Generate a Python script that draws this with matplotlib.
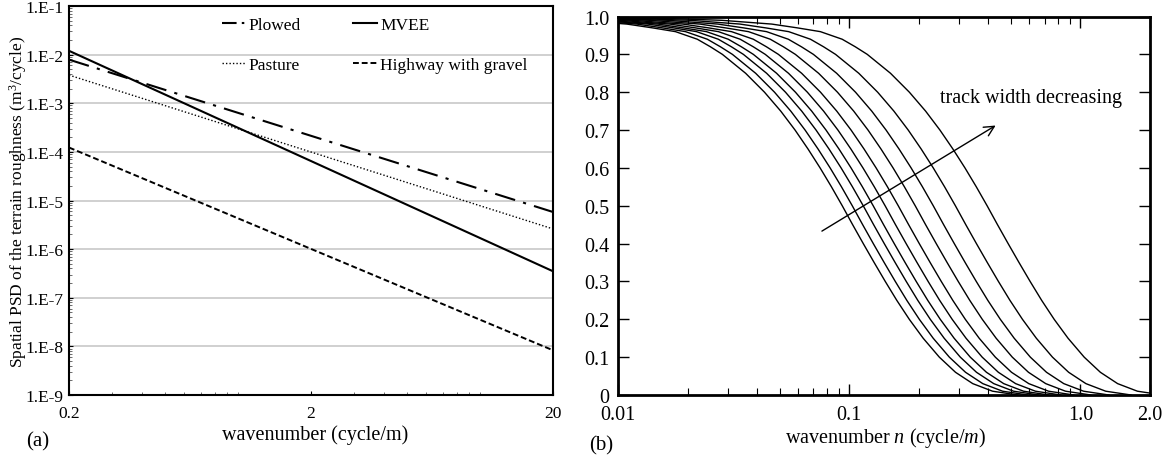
import numpy as np
import matplotlib
matplotlib.use("Agg")
import matplotlib.pyplot as plt
from matplotlib.lines import Line2D
from matplotlib.ticker import FixedLocator, LogLocator, NullFormatter

plt.rcParams['font.family'] = ['Liberation Serif', 'DejaVu Serif']
plt.rcParams['mathtext.fontset'] = 'custom'
plt.rcParams['mathtext.rm'] = 'Liberation Serif'
plt.rcParams['mathtext.it'] = 'Liberation Serif:italic'

# (a) terrain roughness PSD, end points of each straight line in log-log
wn_ends = [0.2, 20]
psd_plowed = [7.9e-3, 5.8e-6]
psd_mvee = [1.2e-2, 3.5e-7]
psd_pasture = [3.8e-3, 2.6e-6]
psd_highway = [1.23e-4, 8.3e-9]

psd_ticks = [1e-9, 1e-8, 1e-7, 1e-6, 1e-5, 1e-4, 1e-3, 1e-2, 1e-1]
psd_labels = ['1.E-9', '1.E-8', '1.E-7', '1.E-6', '1.E-5', '1.E-4', '1.E-3', '1.E-2', '1.E-1']

# (b) filter curves: common shape (level vs n / n_half) and half-level wavenumber per track width
shape_level = [1.0, 0.995, 0.99, 0.98, 0.97, 0.96, 0.94, 0.92, 0.90, 0.85, 0.80, 0.75, 0.70,
               0.65, 0.60, 0.55, 0.50, 0.45, 0.40, 0.35, 0.30, 0.25, 0.20, 0.15, 0.10, 0.06,
               0.03, 0.01, 0.0]
shape_ratio = [0.01, 0.04, 0.071, 0.117, 0.151, 0.19, 0.236, 0.269, 0.303, 0.382, 0.461,
               0.542, 0.625, 0.711, 0.802, 0.898, 1.0, 1.109, 1.233, 1.374, 1.535, 1.722,
               1.95, 2.239, 2.63, 3.09, 3.67, 4.47, 5.75]
n_half = [0.0933, 0.1031, 0.115, 0.127, 0.143, 0.163, 0.193, 0.231, 0.288, 0.395]

fig = plt.figure(figsize=(11.69, 4.56), dpi=100)

# ---------------- (a)
ax1 = fig.add_axes([0.0590, 0.1316, 0.4141, 0.8530])
ax1.plot(wn_ends, psd_plowed, color='black', lw=1.5, ls=(0, (10, 4, 1.5, 4)))
ax1.plot(wn_ends, psd_pasture, color='black', lw=1.0, ls=(0, (1, 1.5)))
ax1.plot(wn_ends, psd_mvee, color='black', lw=1.5, ls='-')
ax1.plot(wn_ends, psd_highway, color='black', lw=1.4, ls=(0, (3, 1.5)))
ax1.set_xscale('log')
ax1.set_yscale('log')
ax1.set_xlim(0.2, 20)
ax1.set_ylim(1e-9, 1e-1)
ax1.yaxis.set_major_locator(FixedLocator(psd_ticks))
ax1.set_yticklabels(psd_labels)
ax1.yaxis.set_minor_locator(LogLocator(base=10, subs=np.arange(2, 10), numticks=20))
ax1.yaxis.set_minor_formatter(NullFormatter())
ax1.xaxis.set_major_locator(FixedLocator([0.2, 2, 20]))
ax1.set_xticklabels(['0.2', '2', '20'])
ax1.xaxis.set_minor_locator(FixedLocator([0.3, 0.4, 0.5, 0.6, 0.7, 0.8, 0.9, 1,
                                          3, 4, 5, 6, 7, 8, 9, 10]))
ax1.xaxis.set_minor_formatter(NullFormatter())
ax1.grid(axis='y', which='major', color='#c8c8c8', lw=1.2)
ax1.set_axisbelow(True)
ax1.tick_params(which='major', direction='in', length=3, width=0.8, labelsize=12.5)
ax1.tick_params(axis='y', which='major', pad=4)
ax1.tick_params(axis='x', which='major', pad=7)
ax1.tick_params(which='minor', direction='in', length=2.5, width=0.6, color='#555555')
for s in ax1.spines.values():
    s.set_linewidth(1.5)
ax1.set_ylabel('Spatial PSD of the terrain roughness (m$^{3}$/cycle)', fontsize=12.5, va='center')
ax1.yaxis.set_label_coords(-0.105, 0.50)
ax1.set_xlabel('wavenumber (cycle/m)', fontsize=14.5, va='center')
ax1.xaxis.set_label_coords(0.508, -0.10)

# legend keys with shorter dash patterns so the dash-dot shows inside the key
keys = [Line2D([], [], color='black', lw=1.5, ls=(0, (7, 2.5, 1.2, 2.5))),
        Line2D([], [], color='black', lw=1.0, ls=(0, (1, 1.5))),
        Line2D([], [], color='black', lw=1.5, ls='-'),
        Line2D([], [], color='black', lw=1.4, ls=(0, (3, 1.5)))]
ax1.legend(keys, ['Plowed', 'Pasture', 'MVEE', 'Highway with gravel'],
           ncol=2, loc='upper left', bbox_to_anchor=(0.316, 0.972), frameon=False,
           fontsize=12.5, handlelength=1.35, handletextpad=0.2, columnspacing=3.0,
           labelspacing=1.35, borderpad=0, borderaxespad=0)

# ---------------- (b)
ax2 = fig.add_axes([0.5287, 0.1316, 0.4550, 0.8300])
for nh in n_half:
    ax2.plot(np.array(shape_ratio) * nh, shape_level, color='black', lw=1.0)
ax2.set_xscale('log')
ax2.set_xlim(0.01, 2.0)
ax2.set_ylim(0, 1.0)
ax2.xaxis.set_major_locator(FixedLocator([0.01, 0.1, 1.0, 2.0]))
ax2.set_xticklabels(['0.01', '0.1', '1.0', '2.0'])
ax2.xaxis.set_minor_locator(LogLocator(base=10, subs=np.arange(2, 10), numticks=20))
ax2.xaxis.set_minor_formatter(NullFormatter())
ax2.yaxis.set_major_locator(FixedLocator(np.arange(0, 11) / 10))
ax2.set_yticklabels(['0', '0.1', '0.2', '0.3', '0.4', '0.5', '0.6', '0.7', '0.8', '0.9', '1.0'])
ax2.tick_params(which='both', direction='in', top=True, right=True, labelsize=14.5)
ax2.tick_params(which='major', length=8, width=1.0)
ax2.tick_params(which='minor', length=5, width=0.8)
ax2.tick_params(axis='x', which='major', pad=7)
ax2.tick_params(axis='y', which='major', pad=6)
for s in ax2.spines.values():
    s.set_linewidth(2.0)
ax2.annotate('', xy=(0.43, 0.712), xytext=(0.0762, 0.433),
             arrowprops=dict(arrowstyle='->', lw=1.0, color='black', mutation_scale=18,
                             shrinkA=0, shrinkB=0))
ax2.text(0.248, 0.787, 'track width decreasing', fontsize=14.5, va='center', ha='left')
ax2.set_xlabel('wavenumber $n$ (cycle/$m$)', fontsize=14.5, va='center')
ax2.xaxis.set_label_coords(0.502, -0.11)

fig.text(0.0325, 0.031, '(a)', fontsize=15, ha='center', va='center')
fig.text(0.514, 0.022, '(b)', fontsize=15, ha='center', va='center')

fig.savefig('out.png', dpi=100)
